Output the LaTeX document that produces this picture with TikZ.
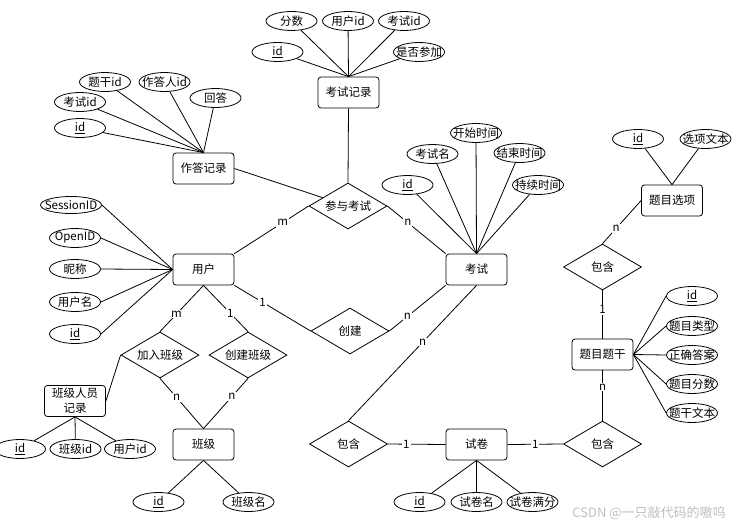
\documentclass[tikz,border=0pt]{standalone}
\usepackage{fontspec}
\setmainfont{Noto Sans CJK SC}
\usetikzlibrary{shapes.geometric}

\tikzset{
  nowidth/.style={execute at begin node={\hbox to 0pt\bgroup\hss}, execute at end node={\hss\egroup}},
  entity/.style={draw, rounded corners=3, minimum width=61, minimum height=31, inner sep=0pt},
  attr/.style={draw, ellipse, minimum width=51, minimum height=19, inner sep=0pt, nowidth},
  rel/.style={draw, diamond, minimum width=78, minimum height=46, inner sep=0pt, nowidth},
  card/.style={fill=white, inner sep=1pt},
}

\begin{document}
\begin{tikzpicture}[x=1pt,y=1pt,yscale=-1,xscale=1,line width=0.8pt,font=\fontsize{11.5}{14}\selectfont]
\useasboundingbox (0,0) rectangle (738,527);

%Shape: Entities
\node [entity] (zd) at (203.5,168.5) {作答记录};
\node [entity] (kj) at (348.5,92.5) {考试记录};
\node [entity] (yh) at (203.5,269.5) {用户};
\node [entity] (ks) at (476.5,269.5) {考试};
\node [entity] (xx) at (672,200.5) {题目选项};
\node [entity] (tg) at (602.5,354.5) {题目题干};
\node [entity] (sj) at (476.5,444.5) {试卷};
\node [entity] (bj) at (203.5,444.5) {班级};
\node [entity, align=center, font=\fontsize{11.5}{15}\selectfont] (bjry) at (75,401) {班级人员\\记录};

%Shape: Relations
\node [rel] (cy) at (348,206) {参与考试};
\node [rel] (cj) at (350,331) {创建};
\node [rel] (jr) at (160,355) {加入班级};
\node [rel] (cb) at (248,355) {创建班级};
\node [rel] (bh1) at (348.5,444) {包含};
\node [rel] (bh2) at (602.5,444) {包含};
\node [rel] (bh3) at (602.5,267) {包含};

% Text Node: 作答记录 attributes
\node [attr] (zd1) at (80,128) {\underline{id}};
\node [attr] (zd2) at (80,102) {考试id};
\node [attr] (zd3) at (105,82) {题干id};
\node [attr] (zd4) at (164.5,82) {作答人id};
\node [attr] (zd5) at (215.5,98) {回答};
\foreach \i in {1,...,5} \draw (zd\i) -- (zd.north);

% Text Node: 考试记录 attributes
\node [attr] (kj1) at (277.5,52) {\underline{id}};
\node [attr] (kj2) at (291.5,21) {分数};
\node [attr] (kj3) at (348,21) {用户id};
\node [attr] (kj4) at (404,21) {考试id};
\node [attr] (kj5) at (419,52) {是否参加};
\foreach \i in {1,...,5} \draw (kj\i) -- (kj.north);

% Text Node: 考试 attributes
\node [attr] (ks1) at (407.5,185) {\underline{id}};
\node [attr] (ks2) at (432.5,154) {考试名};
\node [attr] (ks3) at (476,133) {开始时间};
\node [attr] (ks4) at (519.5,153) {结束时间};
\node [attr] (ks5) at (538,185) {持续时间};
\foreach \i in {1,...,5} \draw (ks\i) -- (ks.north);

% Text Node: 题目选项 attributes
\node [attr] (xx1) at (638,139) {\underline{id}};
\node [attr] (xx2) at (705.5,139) {选项文本};
\foreach \i in {1,2} \draw (xx\i) -- (xx.north);

% Text Node: 题目题干 attributes
\node [attr] (tg1) at (692,296) {\underline{id}};
\node [attr] (tg2) at (692,326) {题目类型};
\node [attr] (tg3) at (692,355) {正确答案};
\node [attr] (tg4) at (692,384) {题目分数};
\node [attr] (tg5) at (692,413) {题干文本};
\foreach \i in {1,...,5} \draw (tg\i.west) -- (tg.east);

% Text Node: 试卷 attributes
\node [attr] (sj1) at (419.5,502) {\underline{id}};
\node [attr] (sj2) at (476.5,502) {试卷名};
\node [attr] (sj3) at (532.5,502) {试卷满分};
\foreach \i in {1,2,3} \draw (sj\i) -- (sj.south);

% Text Node: 班级 attributes
\node [attr] (bj1) at (158.5,502) {\underline{id}};
\node [attr] (bj2) at (248.5,502) {班级名};
\foreach \i in {1,2} \draw (bj\i) -- (bj.south);

% Text Node: 班级人员记录 attributes
\node [attr] (bjry1) at (20,449) {\underline{id}};
\node [attr] (bjry2) at (75.5,449) {班级id};
\node [attr] (bjry3) at (130,449) {用户id};
\foreach \i in {1,2,3} \draw (bjry\i) -- (bjry.south);

% Text Node: 用户 attributes
\node [attr, minimum width=61, minimum height=17] (yh1) at (71,205) {SessionID};
\node [attr] (yh2) at (75,238) {OpenID};
\node [attr] (yh3) at (75,269) {昵称};
\node [attr] (yh4) at (75,302) {用户名};
\node [attr] (yh5) at (75,334) {\underline{id}};
\foreach \i in {1,...,5} \draw (yh\i.east) -- (yh.west);

%Shape: Connectors
\draw (zd.east) -- (cy);
\draw (kj.south) -- (cy.north);
\draw (yh.north east) -- node [card, pos=0.65] {m} (cy.west);
\draw (cy.east) -- node [card, pos=0.35] {n} (ks.north west);
\draw (yh.south east) -- node [card, pos=0.37] {1} (cj.west);
\draw (cj.east) -- node [card, pos=0.32] {n} (ks.south west);
\draw (yh.south) -- node [card, pos=0.62] {m} (jr.north);
\draw (yh.south) -- node [card, pos=0.6] {1} (cb.north);
\draw (jr.south) -- node [card, pos=0.38] {n} (bj.north);
\draw (cb.south) -- node [card, pos=0.36] {n} (bj.north);
\draw (bjry.east) -- (jr.west);
\draw (ks.south) -- node [card, pos=0.42] {n} (bh1.north);
\draw (bh1.east) -- node [card, pos=0.32] {1} (sj.west);
\draw (sj.east) -- node [card, pos=0.5] {1} (bh2.west);
\draw (bh2.north) -- node [card, pos=0.67] {n} (tg.south);
\draw (tg.north) -- node [card, pos=0.6] {1} (bh3.south);
\draw (bh3.north) -- node [card, pos=0.35] {n} (xx.west);

% Text Node: watermark
\node [text=black!25, font=\fontsize{13}{15}\selectfont] (wm) at (649,513) {CSDN @一只敲代码的嗷呜};

\end{tikzpicture}
\end{document}
